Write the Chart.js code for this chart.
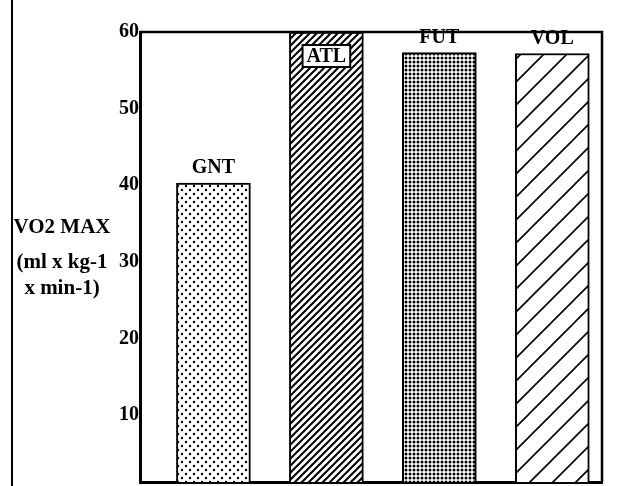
<!DOCTYPE html>
<html>
<head>
<meta charset="utf-8">
<script src="https://cdn.jsdelivr.net/npm/chart.js"></script>
<style>
  html, body { margin: 0; padding: 0; background: #fff; }
  #wrap { width: 620px; height: 486px; position: relative; }
</style>
</head>
<body>
<div id="wrap"><canvas id="vo2Chart" width="620" height="486"></canvas></div>
<script>
// data
const groups = ["GNT", "ATL", "FUT", "VOL"];
const vo2Max = [40.3, 60, 57.3, 57.2];
const yTicks = [10, 20, 30, 40, 50, 60];
const yTitleLines = ["VO2 MAX", "(ml x kg-1", "x min-1)"];

const serif = "'Liberation Serif', 'DejaVu Serif', serif";

function makePattern(kind) {
    let c = document.createElement("canvas");
    let g = c.getContext("2d");
    if (kind === "sparseDots") {
        c.width = 8; c.height = 8;
        g.fillStyle = "#fff"; g.fillRect(0, 0, 8, 8);
        g.fillStyle = "#000";
        g.beginPath(); g.arc(2, 2, 1.2, 0, Math.PI * 2); g.fill();
        g.beginPath(); g.arc(6, 6, 1.2, 0, Math.PI * 2); g.fill();
    } else if (kind === "denseDots") {
        c.width = 4; c.height = 4;
        g.fillStyle = "#fff"; g.fillRect(0, 0, 4, 4);
        g.fillStyle = "#000";
        g.beginPath(); g.arc(2, 2, 1.5, 0, Math.PI * 2); g.fill();
    } else {
        let s = kind === "denseHatch" ? 7 : 23;
        c.width = s; c.height = s;
        g.fillStyle = "#fff"; g.fillRect(0, 0, s, s);
        g.strokeStyle = "#000";
        g.lineWidth = kind === "denseHatch" ? 2 : 1.6;
        g.beginPath();
        g.moveTo(-1, s + 1); g.lineTo(s + 1, -1);
        g.moveTo(-1, 1); g.lineTo(1, -1);
        g.moveTo(s - 1, s + 1); g.lineTo(s + 1, s - 1);
        g.stroke();
    }
    let ctx = document.getElementById("vo2Chart").getContext("2d");
    return ctx.createPattern(c, "repeat");
}

const fills = [
    makePattern("sparseDots"),
    makePattern("denseHatch"),
    makePattern("denseDots"),
    makePattern("sparseHatch")
];

// frame, y title, bar labels
const decorations = {
    id: "decorations",
    afterDatasetsDraw(chart) {
        let ctx = chart.ctx;
        let a = chart.chartArea;
        ctx.save();
        ctx.strokeStyle = "#000";
        ctx.lineWidth = 2.5;
        ctx.beginPath();
        ctx.moveTo(a.left, a.top);
        ctx.lineTo(a.right, a.top);
        ctx.lineTo(a.right, a.bottom);
        ctx.stroke();

        // page edge on the left
        ctx.lineWidth = 2;
        ctx.beginPath();
        ctx.moveTo(12, 0);
        ctx.lineTo(12, 486);
        ctx.stroke();

        ctx.fillStyle = "#000";
        ctx.font = "bold 21px " + serif;
        ctx.textAlign = "center";
        ctx.textBaseline = "middle";
        let ty = [228, 263, 289];
        yTitleLines.forEach((t, i) => ctx.fillText(t, 62, ty[i]));

        ctx.font = "bold 20px " + serif;
        let meta = chart.getDatasetMeta(0);
        meta.data.forEach((bar, i) => {
            let label = groups[i];
            if (vo2Max[i] >= 60) {
                let w = ctx.measureText(label).width + 8;
                let y = bar.y + 24;
                ctx.fillStyle = "#fff";
                ctx.fillRect(bar.x - w / 2, y - 11, w, 22);
                ctx.lineWidth = 2;
                ctx.strokeRect(bar.x - w / 2, y - 11, w, 22);
                ctx.fillStyle = "#000";
                ctx.fillText(label, bar.x, y + 1);
            } else {
                ctx.fillText(label, bar.x, bar.y - 15);
            }
        });
        ctx.restore();
    }
};

new Chart(document.getElementById("vo2Chart"), {
    type: "bar",
    data: {
        datasets: [{
            data: groups.map((g, i) => ({ x: i, y: vo2Max[i] })),
            backgroundColor: fills,
            borderColor: "#000",
            borderWidth: 2,
            barThickness: 74
        }]
    },
    options: {
        responsive: false,
        animation: false,
        devicePixelRatio: 1,
        layout: { padding: { top: 32, right: 18, bottom: 4, left: 0 } },
        plugins: { legend: { display: false }, tooltip: { enabled: false } },
        scales: {
            x: {
                type: "linear",
                offset: false,
                min: -0.65,
                max: 3.44,
                afterFit(scale) { scale.height = 0; },
                grid: { display: false, drawTicks: false },
                ticks: { display: false },
                border: { color: "#000", width: 3 }
            },
            y: {
                min: 1.3,
                max: 60,
                afterBuildTicks(scale) {
                    scale.ticks = yTicks.map(v => ({ value: v }));
                },
                afterFit(scale) {
                    scale.width = 140;
                    scale.paddingTop = 0;
                    scale.paddingBottom = 0;
                },
                grid: { display: false, drawTicks: false },
                ticks: {
                    padding: 1,
                    color: "#000",
                    font: { family: serif, size: 20, weight: "bold" }
                },
                border: { color: "#000", width: 3 }
            }
        }
    },
    plugins: [decorations]
});
</script>
</body>
</html>
